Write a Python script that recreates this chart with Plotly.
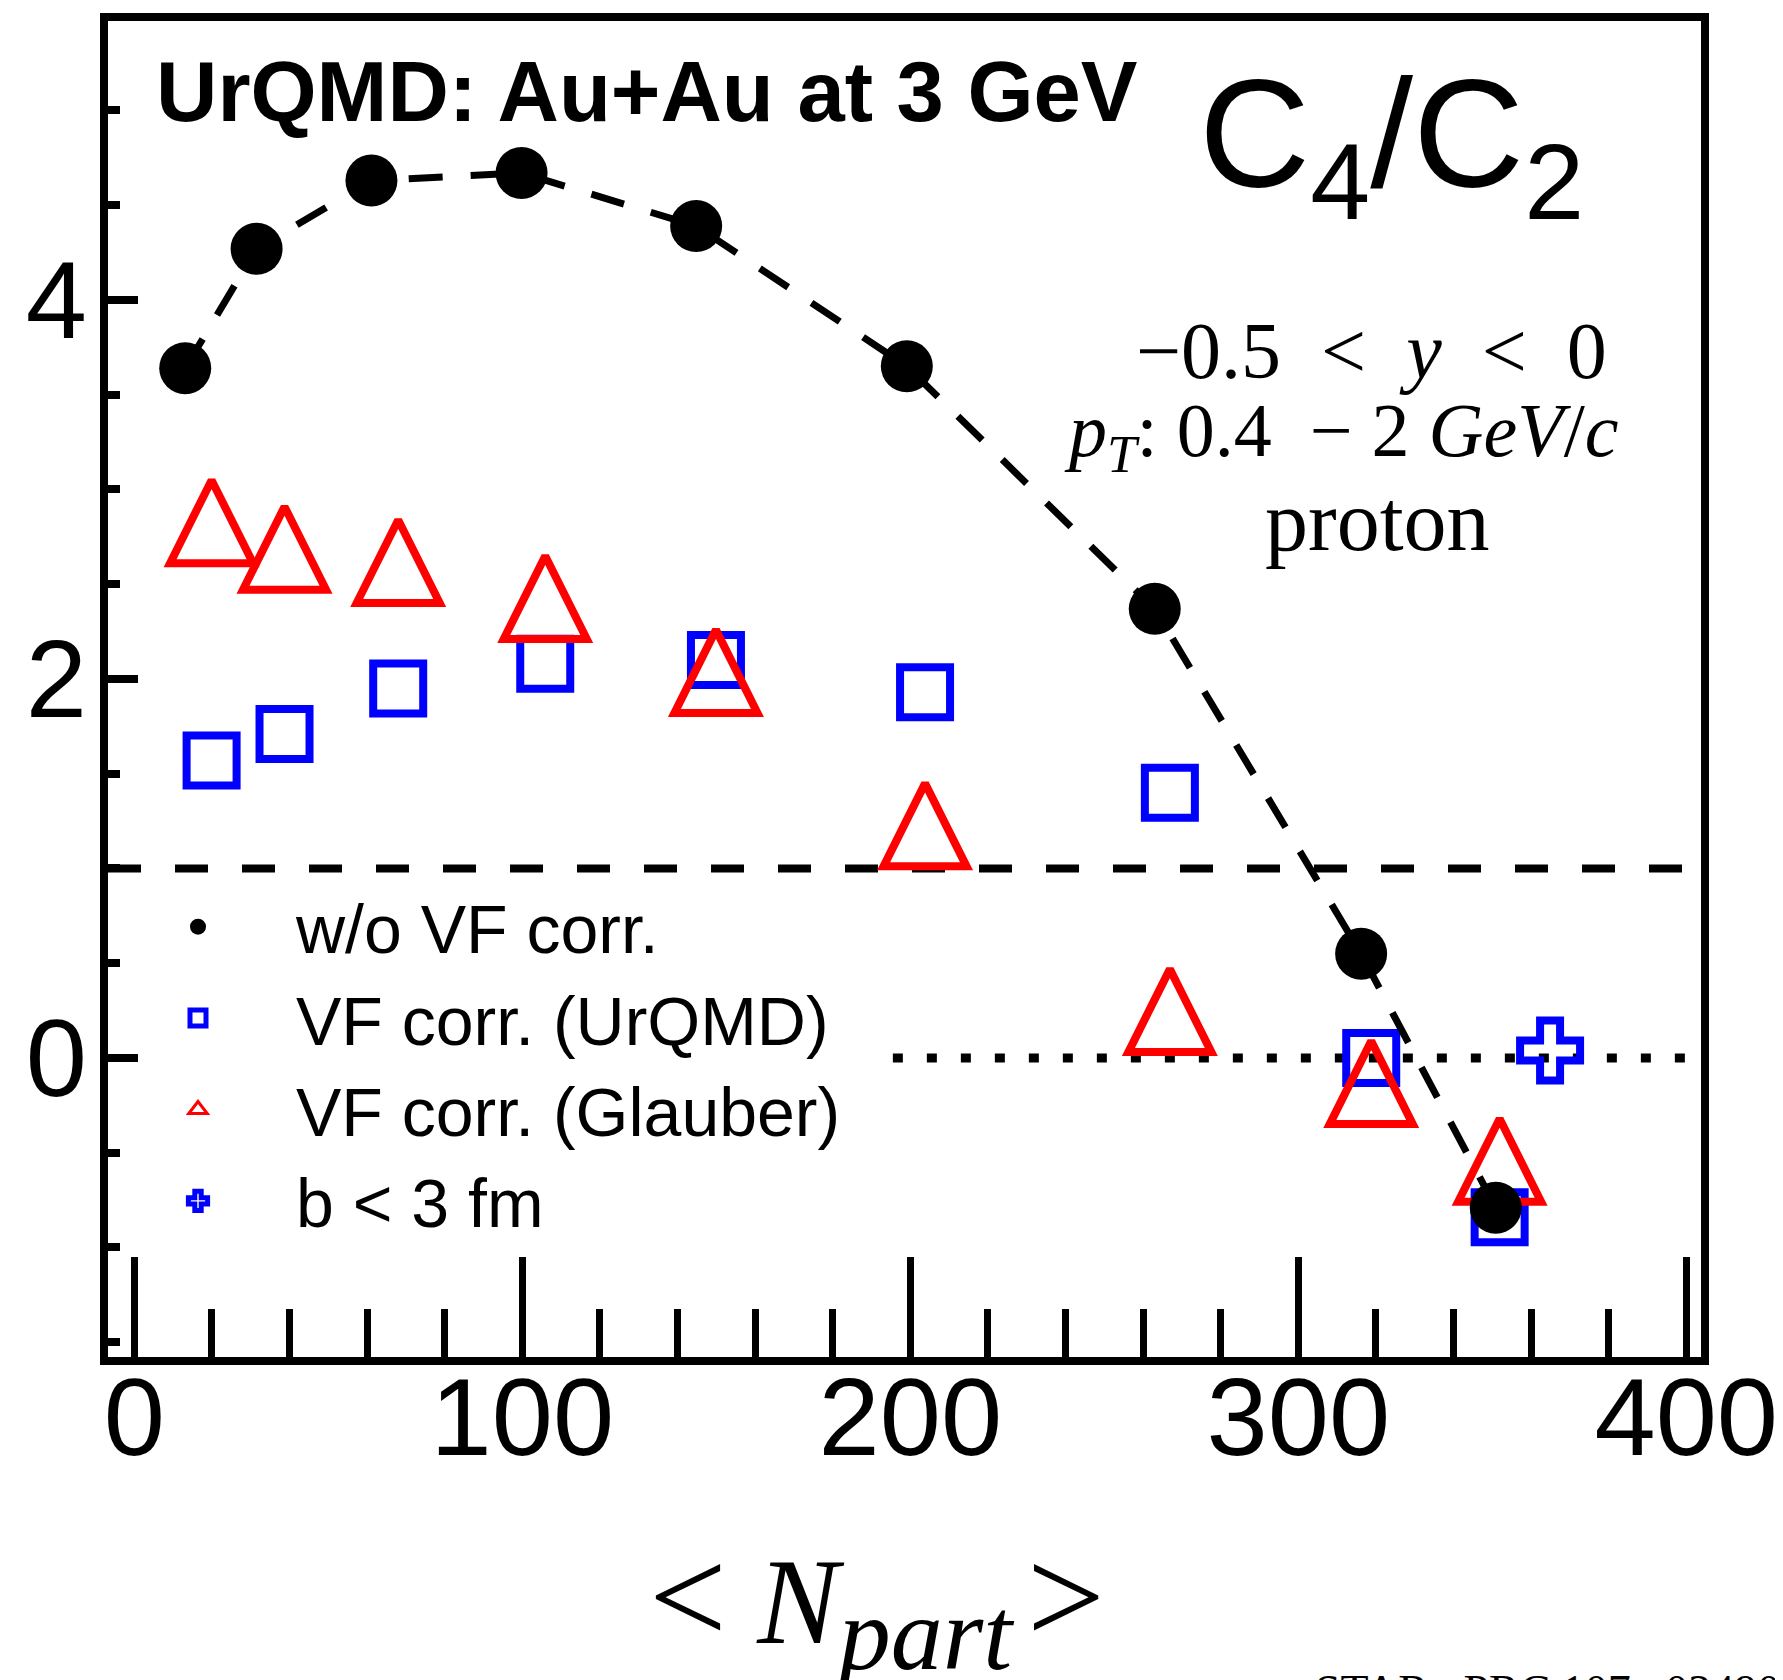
import plotly.graph_objects as go

# ---------------- data ----------------
npart_raw = [13.1, 31.5, 61.1, 99.8, 144.8, 199.1, 263.0, 316.2, 350.9]
c42_raw = [3.64, 4.27, 4.63, 4.67, 4.39, 3.65, 2.37, 0.55, -0.79]

npart_corr = [19.9, 38.7, 68.0, 105.9, 149.9, 203.8, 266.9, 318.8, 351.9]
c42_vf_urqmd = [1.57, 1.71, 1.95, 2.08, 2.10, 1.93, 1.40, 0.00, -0.84]
c42_vf_glauber = [2.83, 2.69, 2.62, 2.43, 2.04, 1.23, 0.25, -0.13, -0.54]

npart_b3 = [364.9]
c42_b3 = [0.04]

unity_level = 1
zero_line_x = [195.5, 410]
zero_line_y = [0, 0]

legend_names = ["w/o VF corr.", "VF corr. (UrQMD)", "VF corr. (Glauber)", "b < 3 fm"]

# ---------------- layout helpers ----------------
OFF = 8                      # page offset of the figure (body margin)
W, H = 1783 - OFF, 1680 - OFF
PW, PH = 1593, 1336
L, T = 108 - OFF, 21 - OFF
R, B = W - L - PW, H - T - PH


def px(xp):
    """page x pixel -> paper x"""
    return (xp - OFF - L) / PW


def py(yp):
    """page y pixel -> paper y"""
    return (T + PH - (yp - OFF)) / PH


SANS = "Liberation Sans, Arial, sans-serif"
SERIF = "Liberation Serif, Times New Roman, serif"
BLUE = "#0000ff"
RED = "#ff0000"

fig = go.Figure()

# dotted zero reference line
fig.add_trace(go.Scatter(
    x=zero_line_x, y=zero_line_y, mode="lines",
    line=dict(color="black", width=9, dash="10px,24px"),
    showlegend=False, hoverinfo="skip"))

# VF corr. (UrQMD)
fig.add_trace(go.Scatter(
    x=npart_corr, y=c42_vf_urqmd, mode="markers", name=legend_names[1],
    marker=dict(symbol="square-open", size=50, color=BLUE,
                line=dict(color=BLUE, width=8)),
    legendrank=2))

# VF corr. (Glauber) - data (isosceles up-triangle centred on the point)
fig.add_trace(go.Scatter(
    x=npart_corr, y=c42_vf_glauber, mode="markers", name=legend_names[2],
    marker=dict(symbol="arrow-down-open", angle=180, standoff=41.5, size=83,
                color=RED, line=dict(color=RED, width=8)),
    legendgroup="glauber", showlegend=False))
# legend entry for Glauber
fig.add_trace(go.Scatter(
    x=[None], y=[None], mode="markers", name=legend_names[2],
    marker=dict(symbol="triangle-up-open", size=16, color=RED,
                line=dict(color=RED, width=3)),
    legendgroup="glauber", legendrank=3))

# b < 3 fm
fig.add_trace(go.Scatter(
    x=npart_b3, y=c42_b3, mode="markers", name=legend_names[3],
    marker=dict(symbol="cross-open", size=50, color=BLUE,
                line=dict(color=BLUE, width=8)),
    legendrank=4))

# w/o VF corr. : dashed line + circles
fig.add_trace(go.Scatter(
    x=npart_raw, y=c42_raw, mode="lines",
    line=dict(color="black", width=7, dash="34px,28px"),
    showlegend=False, hoverinfo="skip"))
fig.add_trace(go.Scatter(
    x=npart_raw, y=c42_raw, mode="markers", name=legend_names[0],
    marker=dict(symbol="circle", size=52, color="black", line=dict(width=0)),
    legendrank=1))

# dashed unity line
fig.add_hline(y=unity_level, line=dict(color="black", width=8, dash="33px,34px"),
              layer="below")

xtitle = ("<span style='font-size:138px'>&lt;</span> <i>N</i>"
          "<sub><i><span style='font-size:104px'>part</span></i></sub>"
          "<span style='font-size:60px'>&nbsp;</span>"
          "<span style='font-size:138px'>&gt;</span>")

annotations = [
    dict(text="<b>UrQMD: Au+Au at 3 GeV</b>", x=px(154), y=py(91.5),
         xanchor="left", yanchor="middle", font=dict(family=SANS, size=85)),
    dict(text="C<sub>4</sub>/C<sub>2</sub>", x=px(1391), y=py(46),
         xanchor="center", yanchor="top", font=dict(family=SANS, size=154)),
    dict(text="−0.5 &nbsp;&lt;&nbsp; <i>y</i> &nbsp;&lt;&nbsp; 0", x=px(1371), y=py(351),
         xanchor="center", yanchor="middle", font=dict(family=SERIF, size=80)),
    dict(text="<i>p<sub>T</sub></i>: 0.4 &nbsp;− 2 <i>GeV</i>/<i>c</i>", x=px(1341), y=py(436),
         xanchor="center", yanchor="middle", font=dict(family=SERIF, size=76)),
    dict(text="proton", x=px(1377), y=py(521),
         xanchor="center", yanchor="middle", font=dict(family=SERIF, size=86)),
    dict(text=xtitle, x=px(877), y=py(1605),
         xanchor="center", yanchor="middle", font=dict(family=SERIF, size=122)),
    dict(text="STAR, &nbsp;PRC 107, &nbsp;024908", x=px(1313), y=py(1664),
         xanchor="left", yanchor="top", font=dict(family=SERIF, size=46)),
]
for a in annotations:
    a.update(xref="paper", yref="paper", showarrow=False)
    a["font"]["color"] = "black"

fig.update_layout(
    width=W, height=H,
    margin=dict(l=L, r=R, t=T, b=B, autoexpand=False),
    paper_bgcolor="white", plot_bgcolor="white",
    font=dict(family=SANS, color="black"),
    annotations=annotations,
    legend=dict(x=px(100), y=py(876), xanchor="left", yanchor="top",
                bgcolor="rgba(0,0,0,0)", borderwidth=0, itemwidth=186,
                font=dict(family=SANS, size=68, color="black"),
                traceorder="normal"),
    xaxis=dict(range=[-6.8, 403.8], showgrid=False, zeroline=False,
               showline=True, linecolor="black", linewidth=8, mirror=True,
               ticks="inside", ticklen=100, tickwidth=7, tickcolor="black",
               dtick=100, tick0=0, tickfont=dict(family=SANS, size=110),
               ticklabelstandoff=-42, automargin=False,
               minor=dict(dtick=20, tick0=0, ticks="inside", ticklen=48,
                          tickwidth=7, tickcolor="black")),
    yaxis=dict(range=[-1.578, 5.472], showgrid=False, zeroline=False,
               showline=True, linecolor="black", linewidth=8, mirror=True,
               ticks="inside", ticklen=30, tickwidth=8, tickcolor="black",
               dtick=2, tick0=0, tickfont=dict(family=SANS, size=110),
               ticklabelstandoff=-9, automargin=False,
               minor=dict(dtick=0.5, tick0=0, ticks="inside", ticklen=12,
                          tickwidth=8, tickcolor="black")),
)

fig.write_html("out.html")
